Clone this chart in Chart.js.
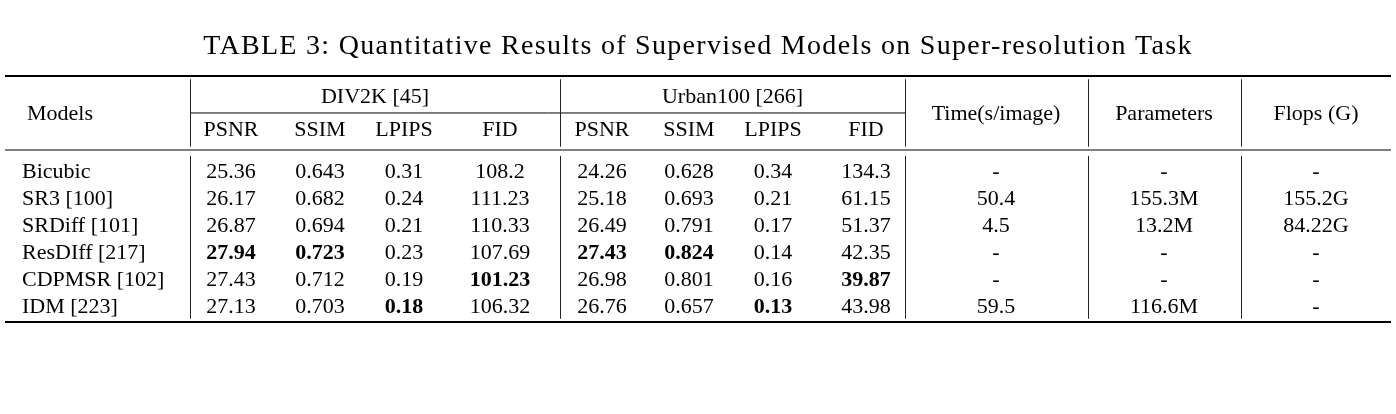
<!DOCTYPE html>
<html>
<head>
<meta charset="utf-8">
<script src="https://cdn.jsdelivr.net/npm/chart.js@4.4.1/dist/chart.umd.min.js"></script>
<style>
  html, body { margin: 0; padding: 0; background: #fff; }
  #wrap { width: 1396px; height: 414px; }
</style>
</head>
<body>
<div id="wrap"><canvas id="tableChart" width="1396" height="414"></canvas></div>
<script>
// table data
const models = ['Bicubic', 'SR3 [100]', 'SRDiff [101]', 'ResDIff [217]', 'CDPMSR [102]', 'IDM [223]'];
const groups = ['DIV2K [45]', 'Urban100 [266]'];
const metrics = ['PSNR', 'SSIM', 'LPIPS', 'FID'];
const higherBetter = [true, true, false, false];

const div2kPSNR = [25.36, 26.17, 26.87, 27.94, 27.43, 27.13];
const div2kSSIM = [0.643, 0.682, 0.694, 0.723, 0.712, 0.703];
const div2kLPIPS = [0.31, 0.24, 0.21, 0.23, 0.19, 0.18];
const div2kFID = [108.2, 111.23, 110.33, 107.69, 101.23, 106.32];

const urbanPSNR = [24.26, 25.18, 26.49, 27.43, 26.98, 26.76];
const urbanSSIM = [0.628, 0.693, 0.791, 0.824, 0.801, 0.657];
const urbanLPIPS = [0.34, 0.21, 0.17, 0.14, 0.16, 0.13];
const urbanFID = [134.3, 61.15, 51.37, 42.35, 39.87, 43.98];

const timePerImage = [null, 50.4, 4.5, null, null, 59.5];
const paramsM = [null, 155.3, 13.2, null, null, 116.6];
const flopsG = [null, 155.2, 84.22, null, null, null];

const extraHeaders = ['Time(s/image)', 'Parameters', 'Flops (G)'];
const titleText = 'TABLE 3: Quantitative Results of Supervised Models on Super-resolution Task';

// layout (table units)
const colEdges = [0, 185, 555, 900, 1083, 1236, 1386];
const metricCenters = [226, 315, 399, 495, 597, 684, 768, 861];
const extraCenters = [991, 1159, 1311];
const modelsX = 17;
const yPos = { top: 0, group: 0.8, groupLine: 1.37, sub: 2.0, head: 2.74, body: 3.56, bottom: 9.11 };

const FONT = '"Liberation Serif", "DejaVu Serif", serif';
const FS = 22;

const metricCols = [div2kPSNR, div2kSSIM, div2kLPIPS, div2kFID, urbanPSNR, urbanSSIM, urbanLPIPS, urbanFID];
const fmt = (v, suffix = '') => (v == null ? '-' : `${v}${suffix}`);

function bestIndex(values, hi) {
  const target = hi ? Math.max(...values) : Math.min(...values);
  return values.indexOf(target);
}

// one point per cell, labels drawn at the point position
const cells = [];
models.forEach((m, r) => {
  cells.push({ x: modelsX, y: yPos.body + r, text: m, align: 'left' });
});
metricCols.forEach((col, c) => {
  const best = bestIndex(col, higherBetter[c % 4]);
  col.forEach((v, r) => {
    cells.push({ x: metricCenters[c], y: yPos.body + r, text: fmt(v), bold: r === best });
  });
});
[[timePerImage, ''], [paramsM, 'M'], [flopsG, 'G']].forEach(([col, suffix], c) => {
  col.forEach((v, r) => {
    cells.push({ x: extraCenters[c], y: yPos.body + r, text: fmt(v, suffix) });
  });
});

const headerCells = [
  { x: 22, y: (yPos.group + yPos.sub) / 2, text: 'Models', align: 'left' },
  { x: (colEdges[1] + colEdges[2]) / 2, y: yPos.group, text: groups[0] },
  { x: (colEdges[2] + colEdges[3]) / 2, y: yPos.group, text: groups[1] },
  ...metricCenters.map((x, i) => ({ x, y: yPos.sub, text: metrics[i % 4] })),
  ...extraCenters.map((x, i) => ({ x, y: (yPos.group + yPos.sub) / 2, text: extraHeaders[i] })),
];

const tablePlugin = {
  id: 'tablePlugin',
  afterDatasetsDraw(chart) {
    const { ctx, scales: { x, y } } = chart;
    const px = (v) => x.getPixelForValue(v);
    const py = (v) => y.getPixelForValue(v);
    ctx.save();

    // caption
    ctx.fillStyle = '#000';
    ctx.textAlign = 'center';
    ctx.textBaseline = 'middle';
    ctx.font = `28px ${FONT}`;
    ctx.letterSpacing = '1.3px';
    ctx.fillText(titleText, chart.width / 2, py(yPos.top) - 29);
    ctx.letterSpacing = '0px';

    const hline = (y0, x0, x1, w) => {
      ctx.lineWidth = w;
      ctx.strokeStyle = '#000';
      ctx.beginPath();
      ctx.moveTo(px(x0), py(y0));
      ctx.lineTo(px(x1), py(y0));
      ctx.stroke();
    };
    const vline = (xv, y0, y1) => {
      ctx.lineWidth = 1;
      ctx.strokeStyle = '#222';
      const xx = Math.round(px(xv)) + 0.5;
      ctx.beginPath();
      ctx.moveTo(xx, py(y0));
      ctx.lineTo(xx, py(y1));
      ctx.stroke();
    };

    // rules
    hline(yPos.top, colEdges[0], colEdges[6], 2.2);
    hline(yPos.head, colEdges[0], colEdges[6], 1.2);
    hline(yPos.bottom, colEdges[0], colEdges[6], 2.2);
    hline(yPos.groupLine, colEdges[1], colEdges[3], 1);

    // column separators
    colEdges.slice(1, 6).forEach((e) => {
      vline(e, yPos.top + 0.12, yPos.head - 0.12);
      vline(e, yPos.head + 0.22, yPos.bottom - 0.12);
    });

    // cells
    [...headerCells, ...cells].forEach((c) => {
      ctx.font = `${c.bold ? 'bold ' : ''}${FS}px ${FONT}`;
      ctx.textAlign = c.align || 'center';
      ctx.fillText(c.text, px(c.x), py(c.y));
    });
    ctx.restore();
  },
};

new Chart(document.getElementById('tableChart'), {
  type: 'scatter',
  data: {
    datasets: [{ data: cells.map((c) => ({ x: c.x, y: c.y })), pointRadius: 0, pointHoverRadius: 0 }],
  },
  options: {
    responsive: false,
    animation: false,
    events: [],
    layout: { padding: { left: 5, right: 5, top: 76, bottom: 92 } },
    plugins: {
      legend: { display: false },
      tooltip: { enabled: false },
      title: { display: false },
    },
    scales: {
      x: { type: 'linear', display: false, min: colEdges[0], max: colEdges[6] },
      y: { type: 'linear', display: false, reverse: true, min: yPos.top, max: yPos.bottom },
    },
  },
  plugins: [tablePlugin],
});
</script>
</body>
</html>
